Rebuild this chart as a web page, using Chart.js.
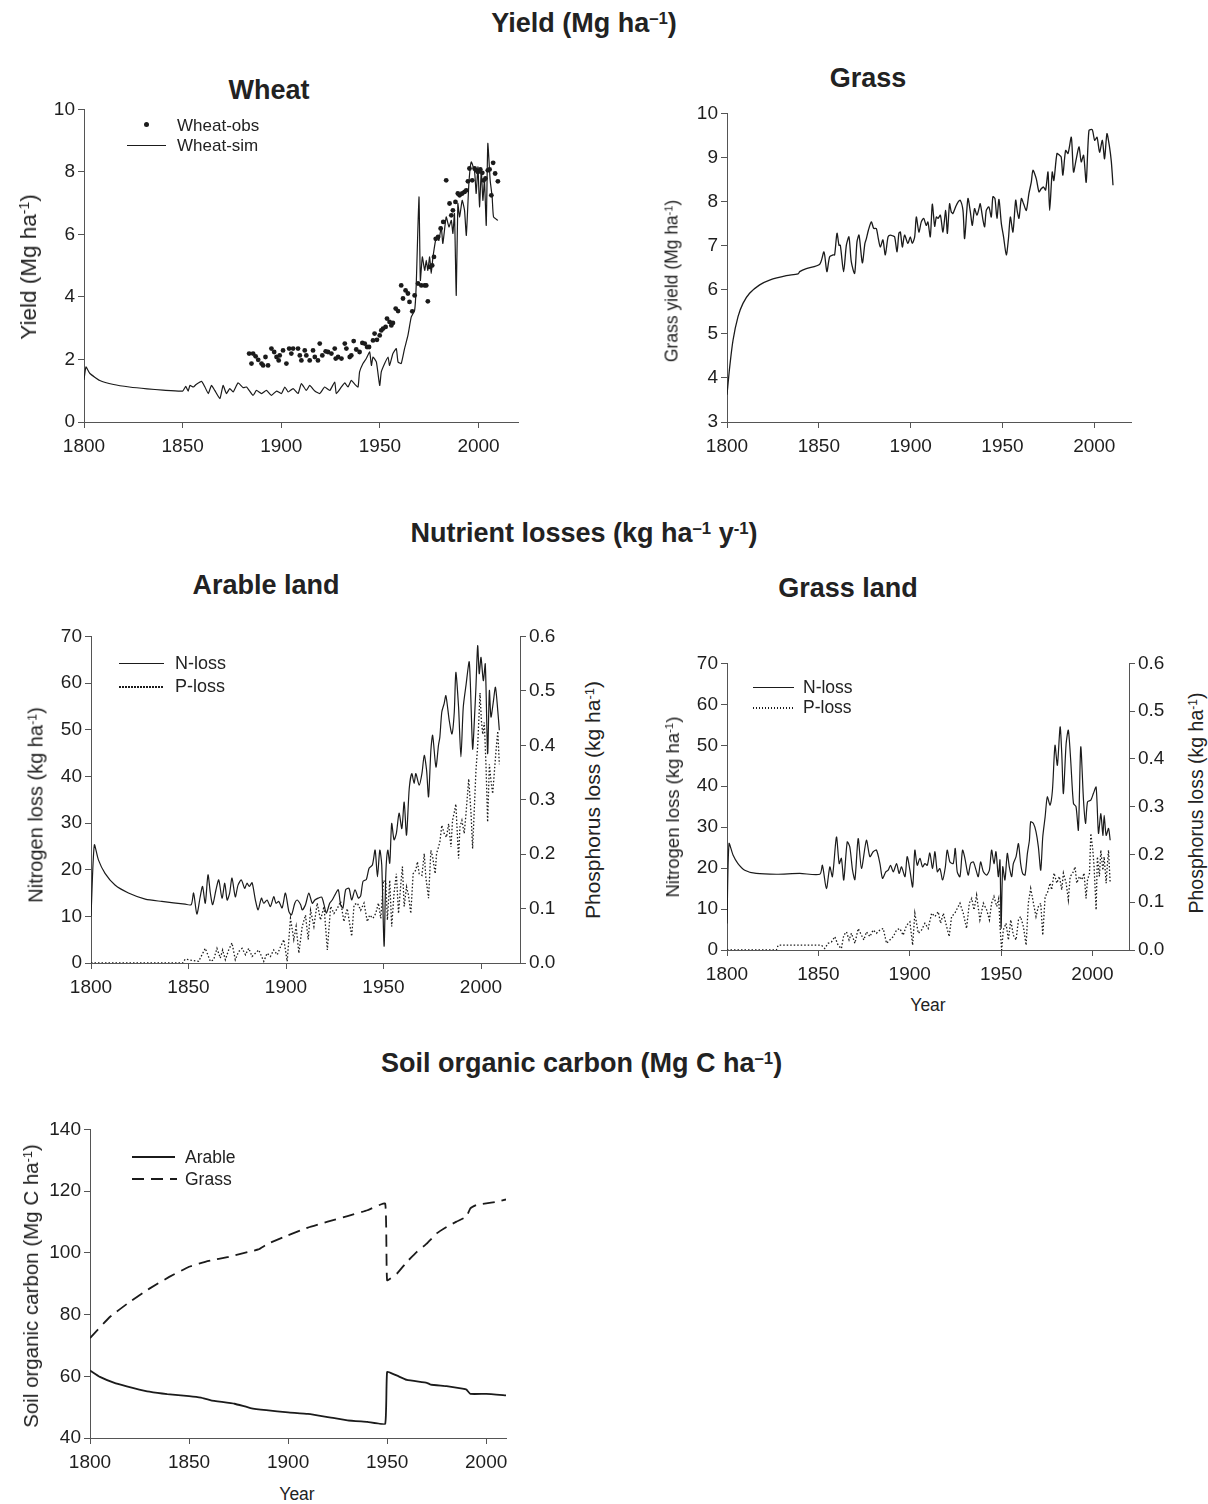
<!DOCTYPE html>
<html>
<head>
<meta charset="utf-8">
<script src="https://cdn.jsdelivr.net/npm/chart.js@4.4.1/dist/chart.umd.min.js"></script>
<style>
    body { margin: 0; background: #fff; font-family: 'Liberation Sans', Arial, sans-serif; color: #222; }
    #page { position: relative; width: 1208px; height: 1504px; overflow: hidden; }
    .panel { position: absolute; }
    .heading { position: absolute; font-weight: bold; font-size: 27px; text-align: center; white-space: nowrap; line-height: 32px; }
    .heading sup, .axis-title sup { font-size: 0.62em; position: relative; top: -0.5em; vertical-align: baseline; line-height: 0; }
    .axis-title { position: absolute; font-size: 20px; white-space: nowrap; transform: translate(-50%, -50%) rotate(-90deg); }
    .year-title { position: absolute; font-size: 17.5px; transform: translate(-50%, -50%); }
    .legend-text { position: absolute; font-size: 17px; white-space: nowrap; transform: translateY(-50%); }
    .legend-line { position: absolute; height: 1px; background: #1b1b1b; }
    .legend-dots { position: absolute; height: 1.5px; background: repeating-linear-gradient(to right, #1b1b1b 0 1.5px, transparent 1.5px 3px); }
    .legend-dash { position: absolute; height: 2px; background: repeating-linear-gradient(to right, #1b1b1b 0 12px, transparent 12px 19px); }
    .legend-dot { position: absolute; width: 5px; height: 5px; border-radius: 50%; background: #1b1b1b; }
</style>
</head>
<body>
<div id="page">
    <!-- Yield -->
    <div class="heading" style="left:384px;top:7px;width:400px">Yield (Mg ha<sup>–1</sup>)</div>
    <div class="heading" style="left:169px;top:74px;width:200px">Wheat</div>
    <div class="heading" style="left:768px;top:62px;width:200px">Grass</div>

    <div class="panel" style="left:24px;top:95px;width:514px;height:364px"><canvas id="wheatChart"></canvas></div>
    <div class="axis-title" style="left:29px;top:267px;font-size:22.5px">Yield (Mg ha<sup>-1</sup>)</div>
    <div class="legend-dot" style="left:144px;top:122px"></div>
    <div class="legend-text" style="left:177px;top:126px">Wheat-obs</div>
    <div class="legend-line" style="left:127px;top:145px;width:39px"></div>
    <div class="legend-text" style="left:177px;top:146px">Wheat-sim</div>

    <div class="panel" style="left:667px;top:99px;width:484px;height:360px"><canvas id="grassChart"></canvas></div>
    <div class="axis-title" style="left:672px;top:281px;font-size:17.5px">Grass yield (Mg ha<sup>-1</sup>)</div>

    <!-- Nutrient losses -->
    <div class="heading" style="left:384px;top:517px;width:400px">Nutrient losses (kg ha<sup>–1</sup> y<sup>-1</sup>)</div>
    <div class="heading" style="left:116px;top:569px;width:300px">Arable land</div>
    <div class="heading" style="left:698px;top:572px;width:300px">Grass land</div>

    <div class="panel" style="left:31px;top:622px;width:544px;height:378px"><canvas id="arableChart"></canvas></div>
    <div class="axis-title" style="left:36px;top:805px;font-size:20px">Nitrogen loss  (kg ha<sup>-1</sup>)</div>
    <div class="axis-title" style="left:593px;top:800px;font-size:21px">Phosphorus loss (kg ha<sup>-1</sup>)</div>
    <div class="legend-line" style="left:119px;top:663px;width:45px"></div>
    <div class="legend-text" style="left:175px;top:663px;font-size:18px">N-loss</div>
    <div class="legend-dots" style="left:119px;top:686px;width:45px"></div>
    <div class="legend-text" style="left:175px;top:686px;font-size:18px">P-loss</div>

    <div class="panel" style="left:667px;top:649px;width:517px;height:338px"><canvas id="grassLandChart"></canvas></div>
    <div class="axis-title" style="left:673px;top:807px;font-size:18.5px">Nitrogen loss (kg ha<sup>-1</sup>)</div>
    <div class="axis-title" style="left:1196px;top:803px;font-size:19.5px">Phosphorus loss (kg ha<sup>-1</sup>)</div>
    <div class="year-title" style="left:928px;top:1005px">Year</div>
    <div class="legend-line" style="left:753px;top:687px;width:41px"></div>
    <div class="legend-text" style="left:803px;top:687px;font-size:17.5px">N-loss</div>
    <div class="legend-dots" style="left:753px;top:707px;width:41px"></div>
    <div class="legend-text" style="left:803px;top:707px;font-size:17.5px">P-loss</div>

    <!-- Soil organic carbon -->
    <div class="heading" style="left:381px;top:1047px;width:400px">Soil organic carbon (Mg C ha<sup>–1</sup>)</div>
    <div class="panel" style="left:30px;top:1115px;width:496px;height:360px"><canvas id="socChart"></canvas></div>
    <div class="axis-title" style="left:31px;top:1286px;font-size:20.5px">Soil organic carbon (Mg C ha<sup>-1</sup>)</div>
    <div class="year-title" style="left:297px;top:1494px">Year</div>
    <div class="legend-line" style="left:132px;top:1156px;width:43px;height:1.8px"></div>
    <div class="legend-text" style="left:185px;top:1157px;font-size:17.5px">Arable</div>
    <div class="legend-dash" style="left:132px;top:1178px;width:45px"></div>
    <div class="legend-text" style="left:185px;top:1179px;font-size:17.5px">Grass</div>
</div>

<script>
// Year tick labels shared by every panel
const yearTicks = [1800, 1850, 1900, 1950, 2000];

// Wheat yield, Mg/ha  [year, value]
const wheatSim = [
    [1800,1.35],[1801,1.76],[1803,1.55],[1808,1.33],[1815,1.2],[1823,1.12],[1832,1.06],[1840,1.02],[1850,0.99],
    [1851.6,1.14],[1852.8,0.99],[1853.7,1.17],[1855.4,1.12],[1857,1.21],[1859.6,1.3],[1861.3,1.12],[1863,0.91],
    [1864.6,1.17],[1866.3,1.01],[1868.9,0.75],[1870.5,1.17],[1872.2,0.91],[1873.9,1.07],[1875.6,0.96],[1878.1,1.25],
    [1880.7,1.1],[1882.4,1.12],[1885.7,0.85],[1887.4,1.01],[1890,0.91],[1892.5,1.01],[1895,0.85],[1897.6,0.99],
    [1900.1,0.91],[1901.8,1.12],[1903.5,0.96],[1906,1.07],[1908.5,0.91],[1910.2,1.23],[1912.7,1.01],[1914.4,1.17],
    [1917,0.99],[1919.5,0.91],[1922,1.12],[1924.6,1.01],[1927.1,1.28],[1927.9,0.91],[1930.5,1.12],[1932.2,1.25],
    [1933.8,1.12],[1935.5,1.33],[1937.2,1.21],[1938.9,1.12],[1939.7,1.6],[1941.4,1.87],[1943.1,2.03],[1944.8,2.24],
    [1945.7,1.81],[1946.5,2.08],[1948.2,1.92],[1949.9,1.17],[1950.7,1.6],[1952.4,1.87],[1954.1,2.08],[1954.9,1.81],
    [1956.6,2.19],[1958.3,2.35],[1959.2,1.92],[1960.8,1.87],[1962.5,2.35],[1964.2,2.77],[1965.9,3.36],[1967.6,3.57],
    [1968.4,4.37],[1969.8,7.2],[1970.5,4.53],[1971.5,5.28],[1972.7,4.85],[1973.5,5.17],[1974.3,4.85],[1975.2,5.28],
    [1976,4.75],[1976.9,5.28],[1978.6,5.92],[1979.9,5.81],[1981.1,6.24],[1981.9,5.71],[1983.6,6.56],[1985,6.24],
    [1986.2,6.45],[1987,6.03],[1987.8,6.67],[1988.7,4.05],[1989.5,6.99],[1990.4,6.56],[1991.7,7.09],[1992.9,6.77],
    [1993.8,5.97],[1995.1,7.63],[1996.3,8.32],[1998,8.0],[1998.8,7.31],[1999.7,8.16],[2000.5,6.88],[2001.4,8.05],
    [2002.2,7.09],[2003,7.73],[2003.9,6.29],[2004.7,8.91],[2005.9,7.73],[2006.9,7.2],[2007.6,6.56],[2009.8,6.45]
];
const wheatObs = [
    [1883.7,2.19],[1884.9,1.87],[1885.7,2.19],[1887,2.1],[1888.3,1.99],[1890,1.87],[1890.8,1.81],[1892,2.08],
    [1893.3,1.81],[1895,2.35],[1896.4,2.24],[1897.6,2.08],[1898.7,1.97],[1899.2,2.13],[1900.9,2.29],[1902.6,1.87],
    [1904,2.35],[1905.1,2.19],[1906,2.35],[1908.5,2.35],[1909.4,2.13],[1910.2,1.97],[1911.9,2.29],[1912.7,2.13],
    [1914.4,1.97],[1916.1,2.29],[1917,2.08],[1918.6,1.97],[1919.5,2.51],[1920.8,2.13],[1922.5,2.26],[1923.7,2.24],
    [1925.4,2.19],[1927.1,2.35],[1927.6,2.03],[1928.8,2.08],[1930.5,2.03],[1932.2,2.51],[1933,2.35],[1934.7,2.08],
    [1935.5,2.13],[1936.7,2.59],[1938,2.32],[1939.7,2.24],[1941.1,2.53],[1942.3,2.51],[1943.5,2.4],[1944.5,2.4],
    [1946.5,2.61],[1947.3,2.83],[1948.5,2.63],[1949.9,2.77],[1950.7,2.93],[1951.6,2.99],[1952.9,3.04],[1953.6,3.31],
    [1954.9,3.2],[1955.8,3.09],[1956.6,3.17],[1958,3.63],[1959.2,3.55],[1960.8,4.37],[1961.7,3.95],[1963,4.21],
    [1964.2,4.11],[1965,3.84],[1966.4,3.54],[1967.6,4.05],[1969.3,4.43],[1971,4.37],[1972.7,4.37],[1973.5,4.37],
    [1974.3,3.86],[1975.2,4.96],[1976.5,5.01],[1977.4,5.28],[1978.3,5.86],[1979.5,5.92],[1980.8,6.19],[1982.1,6.4],
    [1983.6,7.73],[1985.3,6.99],[1986.2,6.61],[1987,6.77],[1988.3,7.04],[1989.5,7.31],[1990.4,7.25],[1991.7,7.31],
    [1992.9,7.36],[1993.8,7.41],[1994.6,7.7],[1995.4,8.11],[1996.8,7.73],[1998,8.11],[1998.8,8.05],[1999.7,8.0],
    [2000.9,8.08],[2001.9,7.97],[2002.6,7.73],[2003.5,7.79],[2004.7,8.05],[2005.6,8.08],[2006.5,7.25],[2007.4,8.29],
    [2008.4,7.95],[2009.8,7.7]
];

// Grass yield, Mg/ha
const grassYield = [
    [1800,3.62],[1801.5,4.26],[1803.3,4.86],[1806,5.39],[1808.7,5.69],[1812.3,5.92],[1817.8,6.11],[1823.2,6.22],
    [1832.3,6.32],[1838.7,6.36],[1839.6,6.41],[1843.2,6.48],[1850.5,6.58],
    [1852.8,6.86],[1854.4,6.41],[1855.9,6.75],[1857.7,6.79],[1858.6,6.79],[1859.9,7.28],[1861,7.01],[1861.7,7.01],
    [1863.5,6.41],[1865,7.01],[1866.4,7.2],[1867.7,6.63],[1869.5,6.37],[1870.8,7.09],[1871.9,7.24],[1873.7,6.61],
    [1875.1,7.05],[1875.9,7.16],[1877,7.35],[1878.6,7.54],[1879.9,7.39],[1881.3,7.39],[1882.4,7.16],[1883.5,6.97],
    [1884.9,7.13],[1886.2,6.79],[1887.7,7.2],[1888.9,7.24],[1890.4,7.22],[1891.3,7.2],[1892.6,6.86],[1893.6,7.28],
    [1894.4,7.31],[1895.5,6.97],[1896.7,7.24],[1898.5,7.05],[1899.8,7.2],[1900.9,7.05],[1902.2,7.2],[1903.1,7.65],
    [1904.5,7.31],[1905.8,7.54],[1907.1,7.62],[1908.5,7.46],[1909.4,7.54],[1910.7,7.2],[1911.8,7.94],[1913.1,7.44],
    [1914,7.65],[1914.9,7.62],[1916.2,7.69],[1917.6,7.31],[1919.1,7.8],[1920,7.28],[1921.2,7.95],[1922.1,7.77],
    [1923,7.73],[1924.5,7.88],[1925.8,7.99],[1927,8.03],[1928.5,7.8],[1929.4,7.16],[1931.2,8.07],[1932.5,7.77],
    [1933.6,7.46],[1934.8,7.84],[1936.1,7.69],[1937.2,7.84],[1937.9,7.95],[1939.4,7.58],[1940.3,7.43],[1941.2,7.8],
    [1942.6,7.88],[1943.9,7.65],[1944.8,8.11],[1945.9,8.07],[1947,7.62],[1948.1,8.05],[1949.4,7.5],[1950.6,7.2],
    [1952.1,6.79],[1953.2,7.13],[1954.3,7.65],[1955.7,7.31],[1957.2,8.03],[1958.1,7.77],[1959,7.62],[1960.3,8.07],
    [1961.5,7.95],[1963,7.8],[1964.4,8.18],[1965.7,8.44],[1966.6,8.71],[1968.4,8.52],[1969.9,8.22],[1971.1,8.29],
    [1972.4,8.33],[1973.5,8.26],[1974.8,8.67],[1975.7,7.8],[1977.1,8.67],[1978,8.48],[1979.7,9.09],[1981.1,9.05],
    [1982,9.01],[1982.9,8.6],[1984.4,9.16],[1985.7,9.09],[1987.5,9.46],[1988.7,8.67],[1990.2,8.97],[1991.7,9.24],
    [1992.9,8.9],[1994.2,9.05],[1995.6,8.44],[1997.1,9.61],[1998.9,9.63],[2000.2,9.39],[2001.5,9.46],[2002.9,9.12],
    [2004.4,9.39],[2005.6,8.97],[2006.9,9.54],[2008.3,9.24],[2009.3,8.9],[2010.2,8.37]
];

// Arable land losses: N in kg/ha, P in kg/ha
const arableN = [
    [1800,10],[1801.7,25.3],[1803.8,22.1],[1807.2,19.2],[1812.3,16.7],[1819.2,15.0],[1827.8,13.7],[1836.3,13.2],
    [1848.3,12.6],[1851.4,12.5],
    [1852.6,15.0],[1854.3,10.5],[1856,14.2],[1857.2,16.4],[1858.6,12.8],[1860,18.9],[1861.2,15.0],[1862.4,12.5],
    [1864.1,15.7],[1865.5,17.8],[1867.2,13.9],[1868.6,17.1],[1869.8,13.5],[1871.1,15.0],[1872.3,18.2],[1874,14.2],
    [1875.4,16.7],[1877.1,17.8],[1878.8,16.0],[1880,17.1],[1881.2,16.4],[1882.6,17.2],[1884.3,13.5],[1885.7,11.4],
    [1887.4,13.9],[1888.6,12.8],[1890.3,13.5],[1892,12.1],[1893.7,14.2],[1894.9,12.8],[1896.3,13.2],[1898,11.8],
    [1899.7,15.0],[1901.5,11.0],[1902.8,10.3],[1904.5,12.8],[1905.7,13.5],[1907.5,12.5],[1908.3,11.4],[1910,12.5],
    [1911.7,15.0],[1913.5,12.8],[1914.8,13.5],[1916.5,13.9],[1918.3,14.1],[1919.5,12.5],[1920.7,10.7],[1922.4,12.8],
    [1923.7,13.5],[1925.1,14.6],[1926.8,15.7],[1928,12.5],[1929.2,11.8],[1930.6,15.7],[1932.3,16.0],[1933.7,13.5],
    [1935.4,15.7],[1937.1,13.9],[1938.3,14.4],[1939.5,17.5],[1941.2,17.9],[1942.6,20.3],[1944.3,21.0],[1945.7,24.2],
    [1946.9,18.5],[1948.1,24.2],[1949.1,21.0],[1950.3,3.6],[1951.2,19.2],[1952.2,24.2],[1953.2,21.4],[1954.2,29.9],
    [1955.4,26.4],[1956.6,27.8],[1958,32.1],[1959.4,28.8],[1960.6,34.5],[1961.8,27.4],[1963.2,37.4],[1964.5,40.6],
    [1965.7,38.5],[1966.6,40.6],[1968.3,38.1],[1969.7,40.6],[1970.9,44.5],[1972.1,41.3],[1973.1,35.6],[1974.3,45.6],
    [1975.2,48.8],[1976.9,42.0],[1978.2,46.7],[1978.9,48.4],[1979.9,53.8],[1981.1,55.6],[1982,57.3],[1983.7,52.0],
    [1985.1,49.1],[1986.3,53.8],[1987.1,62.3],[1988.5,54.8],[1989.7,44.2],[1990.9,54.8],[1992.3,59.5],[1994,64.5],
    [1995.7,45.9],[1996.6,52.0],[1997.4,59.1],[1998.3,68.0],[1999.1,62.0],[2000,65.5],[2001.2,60.5],[2002.2,64.1],
    [2003.4,44.9],[2004.3,58.4],[2005.1,52.7],[2006.3,55.9],[2007.4,59.1],[2008.6,54.1],[2009.4,49.9]
];
const arableP = [
    [1800,0],[1847,0],[1848.3,0.007],[1855.2,0.003],[1858.6,0.027],[1861.2,0.003],[1862.9,0.006],[1864.6,0.027],
    [1866.3,0.009],[1867.5,0.024],[1868.9,0.006],[1870.6,0.024],[1872.3,0.037],[1874,0.006],[1875.7,0.021],
    [1877.5,0.027],[1879.2,0.015],[1880.9,0.027],[1882.6,0.012],[1884.3,0.018],[1886,0.024],[1888.6,0.003],
    [1890.3,0.018],[1892,0.012],[1893.7,0.024],[1895.5,0.015],[1897.2,0.03],[1898.9,0.043],[1900.6,0.003],
    [1902.3,0.082],[1904,0.043],[1905.2,0.067],[1906.6,0.018],[1908.3,0.067],[1910,0.088],[1911.4,0.043],
    [1912.6,0.097],[1914.3,0.067],[1916,0.11],[1917.7,0.079],[1919.5,0.104],[1921.2,0.024],[1922.9,0.104],
    [1924.6,0.091],[1926.3,0.1],[1928,0.113],[1929.7,0.076],[1931.4,0.1],[1933.7,0.049],[1934.9,0.107],
    [1936.6,0.11],[1938.3,0.097],[1940,0.11],[1941.7,0.076],[1942.9,0.088],[1944.6,0.082],[1946,0.091],
    [1947.4,0.11],[1948.6,0.082],[1950,0.152],[1951.2,0.146],[1952,0.079],[1953.2,0.152],[1954.2,0.067],
    [1955.4,0.128],[1956.6,0.164],[1957.7,0.091],[1958.9,0.146],[1959.7,0.177],[1960.6,0.104],[1961.8,0.14],
    [1962.8,0.125],[1964,0.091],[1965.2,0.164],[1966.6,0.171],[1967.4,0.186],[1968.3,0.164],[1969.7,0.161],
    [1970.9,0.201],[1971.7,0.158],[1973.1,0.119],[1974.3,0.207],[1975.2,0.195],[1976.5,0.164],[1977.2,0.201],
    [1978.2,0.213],[1978.9,0.222],[1979.9,0.253],[1981.1,0.238],[1982.3,0.231],[1983.4,0.256],[1984.6,0.213],
    [1985.4,0.262],[1986.3,0.277],[1987.1,0.292],[1988.5,0.192],[1989.2,0.25],[1990.2,0.262],[1991.4,0.238],
    [1992.3,0.274],[1993.7,0.338],[1994.9,0.274],[1995.7,0.21],[1996.6,0.286],[1997.4,0.353],[1998.3,0.399],
    [1999.5,0.496],[2000.2,0.445],[2000.9,0.42],[2001.7,0.442],[2002.6,0.359],[2003.4,0.259],[2004.3,0.365],
    [2005.1,0.335],[2006,0.311],[2006.9,0.353],[2007.7,0.39],[2008.6,0.426],[2009.4,0.365]
];

// Grass land losses
const grassN = [
    [1800,6.5],[1801.1,26.0],[1803.3,23.2],[1806,21.1],[1809.7,19.5],[1816,18.7],[1827,18.5],[1839.8,18.7],[1850.8,18.5],
    [1852.2,20.7],[1854.4,15.0],[1856.3,20.3],[1857.7,17.9],[1859.9,27.6],[1861.4,21.1],[1862.6,22.4],[1863.9,17.1],
    [1865.8,26.4],[1867.2,25.2],[1868.7,19.5],[1870,17.2],[1871.8,27.2],[1873.6,19.9],[1876.3,26.8],[1878.2,22.8],
    [1880,24.0],[1881.8,24.4],[1883.7,21.1],[1885.1,17.5],[1886.9,19.1],[1888.2,19.5],[1889.5,20.7],[1891,19.1],
    [1892.8,21.1],[1894.2,18.7],[1895.5,20.3],[1897.4,17.9],[1898.6,22.8],[1900.1,19.5],[1901.6,15.4],[1902.8,24.4],
    [1904.1,20.7],[1905.6,22.4],[1907,20.3],[1908.3,21.1],[1909.6,20.7],[1911,23.7],[1912.5,19.9],[1913.8,24.0],
    [1915.1,19.1],[1916.5,19.9],[1918,17.1],[1919.5,20.3],[1920.5,24.4],[1922,21.5],[1923.8,21.1],[1924.9,24.8],
    [1926,19.1],[1927.5,17.9],[1928.9,24.4],[1930.2,22.4],[1932,18.3],[1933.3,21.1],[1934.8,21.5],[1936.3,19.5],
    [1937.5,17.9],[1938.8,21.5],[1940.3,19.1],[1942.1,18.3],[1943.6,19.5],[1944.8,24.4],[1946.1,21.1],[1947.2,24.0],
    [1948.5,17.9],[1949.4,22.0],[1950,5.3],[1950.9,20.3],[1952.1,17.1],[1953.4,23.6],[1954.5,20.3],[1955.8,17.9],
    [1956.7,21.1],[1958.2,22.8],[1959.5,26.0],[1960.7,21.1],[1961.8,18.7],[1963.1,18.3],[1964.4,23.6],[1965.5,26.8],
    [1966.2,31.3],[1967.7,30.9],[1969.1,28.9],[1970.4,25.2],[1971.7,19.5],[1972.8,27.6],[1974.1,32.5],[1975.3,37.4],
    [1976.8,35.4],[1978.1,39.0],[1979.5,50.0],[1980.8,45.1],[1982.3,54.5],[1983.2,48.0],[1984.1,38.2],[1985.6,50.4],
    [1986.8,53.7],[1988.1,46.3],[1989.6,35.8],[1991,35.0],[1992.3,29.3],[1993.6,49.6],[1995.1,36.6],[1996.2,30.9],
    [1997.3,36.2],[1999.1,36.6],[2000.5,38.2],[2002,39.8],[2003.3,28.5],[2004.6,33.3],[2005.7,28.0],[2006.4,32.9],
    [2007.5,28.0],[2008.8,29.7],[2009.7,26.8]
];
const grassP = [
    [1800,0],[1827,0],[1828,0.01],[1851.7,0.01],[1853.5,0.003],[1855.3,0.014],[1857.2,0.017],[1859,0.028],
    [1860.8,0.01],[1862.6,0.003],[1863.9,0.031],[1865.4,0.038],[1866.8,0.021],[1868.1,0.035],[1870,0.014],
    [1871.8,0.045],[1873.6,0.031],[1874.9,0.021],[1876.3,0.038],[1878.2,0.028],[1880,0.042],[1881.8,0.035],
    [1883.7,0.042],[1885.5,0.045],[1887.3,0.014],[1889.1,0.021],[1891,0.028],[1892.8,0.042],[1894.6,0.045],
    [1896.4,0.031],[1898.3,0.052],[1900.1,0.059],[1901.6,0.01],[1902.8,0.077],[1904.7,0.035],[1906.5,0.042],
    [1908.3,0.056],[1910.1,0.045],[1912,0.077],[1913.8,0.07],[1915.6,0.08],[1916.9,0.056],[1918.4,0.077],
    [1920.2,0.049],[1921.6,0.028],[1922.9,0.07],[1924.7,0.077],[1926,0.087],[1927.5,0.098],[1929.3,0.077],
    [1931.1,0.045],[1932.6,0.098],[1933.9,0.108],[1935.2,0.084],[1936.6,0.115],[1938.4,0.063],[1940.3,0.098],
    [1942.1,0.084],[1943.6,0.063],[1944.8,0.098],[1946.1,0.112],[1947.6,0.091],[1948.7,0.108],[1949.4,0.049],
    [1950.3,0],[1951.2,0.042],[1952.7,0.056],[1954,0.021],[1955.3,0.063],[1956.7,0.031],[1958.2,0.021],
    [1959.5,0.063],[1960.7,0.07],[1962.2,0.049],[1963.7,0.01],[1964.9,0.098],[1966.2,0.129],[1967.7,0.098],
    [1969.1,0.07],[1970.4,0.091],[1971.7,0.098],[1972.8,0.031],[1974.1,0.112],[1975.3,0.119],[1976.8,0.14],
    [1977.7,0.126],[1979,0.161],[1980.5,0.14],[1981.9,0.154],[1983.2,0.126],[1984.1,0.161],[1985.6,0.14],
    [1986.8,0.105],[1987.8,0.154],[1989.2,0.161],[1990.5,0.174],[1991.4,0.14],[1992.9,0.154],[1994.2,0.147],
    [1995.4,0.161],[1996.5,0.108],[1997.3,0.147],[1998.4,0.161],[1999.1,0.244],[2000.2,0.209],[2000.9,0.174],
    [2002,0.084],[2002.7,0.195],[2003.8,0.154],[2004.6,0.209],[2005.7,0.167],[2006.4,0.195],[2007.5,0.14],
    [2008.2,0.181],[2008.8,0.209],[2009.7,0.14]
];

// Soil organic carbon, Mg C/ha
const socArable = [
    [1800,61.9],[1805,59.8],[1813,57.7],[1822,56.2],[1830,55.0],[1839,54.2],[1850,53.6],[1856,53.1],[1861,52.2],
    [1873,51.1],[1881,49.7],[1889,49.0],[1900,48.3],[1910,47.8],[1920,46.8],[1930,45.7],[1940,45.2],[1949,44.6],
    [1950,61.4],[1955,60.2],[1960,58.8],[1970,57.9],[1972,57.3],[1980,56.8],[1988,56.0],[1990,55.7],[1992,54.3],
    [2000,54.3],[2010,53.8]
];
const socGrass = [
    [1800,72.4],[1810,79.2],[1820,84.1],[1830,88.4],[1840,92.2],[1850,95.5],[1855,96.5],[1860,97.4],[1870,98.7],
    [1880,100.3],[1885,101.1],[1890,103.0],[1900,105.7],[1910,108.2],[1920,110.1],[1930,111.9],[1940,113.8],
    [1949,116.0],[1950,91.1],[1955,93.3],[1960,97.1],[1965,100.3],[1970,103.0],[1975,106.3],[1980,108.4],
    [1985,110.1],[1990,111.7],[1992,114.4],[1995,115.5],[2000,116.0],[2005,116.5],[2010,117.3]
];

const tickFont = { family: "'Liberation Sans', Arial, sans-serif", size: 19 };
const axisColor = '#555';
const ink = '#1b1b1b';

const toXY = pairs => pairs.map(p => ({ x: p[0], y: p[1] }));

function xAxis(max) {
    return {
        type: 'linear', min: 1800, max: max,
        ticks: { font: tickFont, color: '#1e1e1e', padding: 7, maxRotation: 0, callback: v => String(v) },
        grid: { drawOnChartArea: false, tickLength: 6, color: axisColor },
        border: { color: axisColor },
        afterBuildTicks: s => { s.ticks = yearTicks.map(v => ({ value: v })); },
        afterFit: s => { s.height = 37; }
    };
}

function yAxis(min, max, step, position, width, decimals) {
    return {
        type: 'linear', position: position, min: min, max: max,
        ticks: { stepSize: step, font: tickFont, color: '#1e1e1e', padding: 3, callback: v => v.toFixed(decimals) },
        grid: { drawOnChartArea: false, tickLength: 6, color: axisColor },
        border: { color: axisColor },
        afterFit: s => { s.width = width; }
    };
}

function lineSet(pairs, opts) {
    return Object.assign({
        data: toXY(pairs), borderColor: ink, borderWidth: 1.2, pointRadius: 0,
        tension: 0.25, fill: false
    }, opts || {});
}

function makeChart(id, datasets, scales, rightPad) {
    return new Chart(document.getElementById(id), {
        type: 'line',
        data: { datasets: datasets },
        options: {
            responsive: true,
            maintainAspectRatio: false,
            animation: false,
            layout: { padding: { top: 14, right: rightPad, left: 0, bottom: 0 } },
            plugins: { legend: { display: false }, tooltip: { enabled: false } },
            scales: scales
        }
    });
}

// Wheat
makeChart('wheatChart', [
    lineSet(wheatObs, { showLine: false, pointRadius: 2.4, pointBackgroundColor: ink, pointBorderWidth: 0 }),
    lineSet(wheatSim, { tension: 0.15 })
], { x: xAxis(2020), y: yAxis(0, 10, 2, 'left', 60, 0) }, 20);

// Grass
makeChart('grassChart', [
    lineSet(grassYield, { borderWidth: 1.3 })
], { x: xAxis(2020), y: yAxis(3, 10, 1, 'left', 60, 0) }, 20);

// Arable land
makeChart('arableChart', [
    lineSet(arableN, { yAxisID: 'y' }),
    lineSet(arableP, { yAxisID: 'y2', tension: 0, borderDash: [1.5, 2], borderWidth: 1.3 })
], { x: xAxis(2020), y: yAxis(0, 70, 10, 'left', 60, 0), y2: yAxis(0, 0.6, 0.1, 'right', 55, 1) }, 0);

// Grass land
makeChart('grassLandChart', [
    lineSet(grassN, { yAxisID: 'y' }),
    lineSet(grassP, { yAxisID: 'y2', tension: 0, borderDash: [1.5, 2], borderWidth: 1.3 })
], { x: xAxis(2020), y: yAxis(0, 70, 10, 'left', 60, 0), y2: yAxis(0, 0.6, 0.1, 'right', 55, 1) }, 0);

// Soil organic carbon
makeChart('socChart', [
    lineSet(socArable, { borderWidth: 1.8, tension: 0.1 }),
    lineSet(socGrass, { borderWidth: 1.8, tension: 0.1, borderDash: [12, 7] })
], { x: xAxis(2010), y: yAxis(40, 140, 20, 'left', 60, 0) }, 20);
</script>
</body>
</html>
